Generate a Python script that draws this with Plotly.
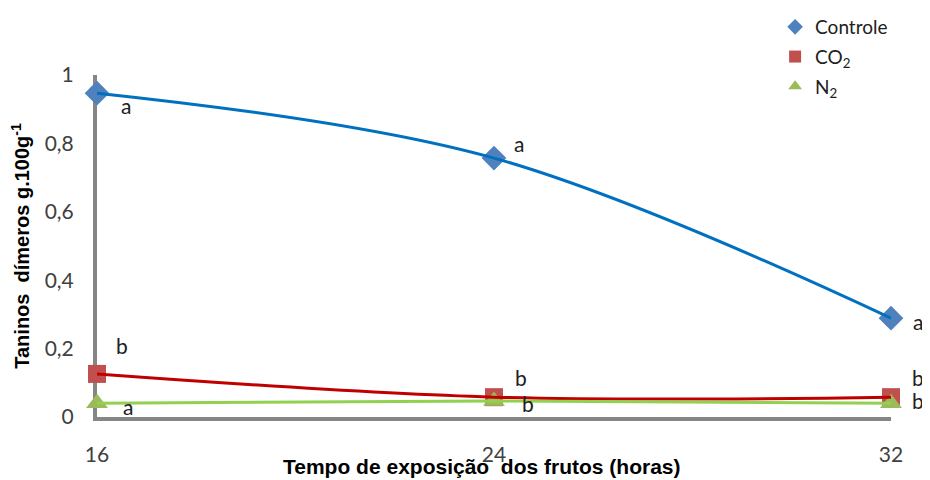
import plotly.graph_objects as go

horas = [16, 24, 32]
controle = [0.947, 0.757, 0.289]
co2 = [0.126, 0.058, 0.058]
n2 = [0.040, 0.047, 0.040]
letras_controle = ["a", "a", "a"]
letras_co2 = ["b", "b", "b"]
letras_n2 = ["a", "b", "b"]
y_ticks = [0, 0.2, 0.4, 0.6, 0.8, 1]
y_ticktext = ["0", "0,2", "0,4", "0,6", "0,8", "1"]
x_ticks = [16, 24, 32]

tick_font = dict(family="Lato, Noto Sans, sans-serif", size=21, color="#404040")
fig = go.Figure()

series = [
    ("Controle", controle, "diamond", "#4F81BD", "#0070C0", 19, "g1"),
    ("CO<sub>2</sub>", co2, "square", "#C0504D", "#C00000", 18, "g2"),
    ("N<sub>2</sub>", n2, "triangle-up", "#9BBB59", "#92D050", 19, "g3"),
]
for name, vals, sym, mcol, lcol, sz, grp in series:
    fig.add_trace(go.Scatter(x=horas, y=vals, mode="markers", name=name,
                             legendgroup=grp,
                             marker=dict(symbol=sym, color=mcol, size=sz),
                             cliponaxis=False))
for name, vals, sym, mcol, lcol, sz, grp in series:
    fig.add_trace(go.Scatter(x=horas, y=vals, mode="lines", showlegend=False,
                             line=dict(color=lcol, width=3, shape="spline", smoothing=1),
                             cliponaxis=False, hoverinfo="skip"))

offsets_controle = [(29, -12), (25, 15), (27, -3)]
offsets_co2 = [(25, 28), (27, 20), (27, 20)]
offsets_n2 = [(31, -3), (34, -3), (27, 3)]
for vals, letras, offs in [(controle, letras_controle, offsets_controle),
                           (co2, letras_co2, offsets_co2),
                           (n2, letras_n2, offsets_n2)]:
    for xv, yv, t, (dx, dy) in zip(horas, vals, letras, offs):
        fig.add_annotation(x=xv, y=yv, text=t, showarrow=False,
                           xshift=dx, yshift=dy,
                           font=dict(family="Lato, Noto Sans, sans-serif", size=21, color="#202020"))

title_font = dict(family="Liberation Sans, Arial, sans-serif", size=21, color="#000000")
fig.add_annotation(xref="paper", yref="paper", x=0.485, y=-0.146,
                   xanchor="center", yanchor="middle", showarrow=False,
                   text="<b>Tempo de exposição  dos frutos (horas)</b>", font=title_font)

fig.update_layout(
    width=922, height=472,
    margin=dict(l=89, r=39, t=67, b=63, autoexpand=False),
    plot_bgcolor="white", paper_bgcolor="white",
    showlegend=True,
    legend=dict(xref="container", yref="container", x=0.832, y=1.0,
                xanchor="left", yanchor="top",
                font=dict(family="Lato, Noto Sans, sans-serif", size=19, color="#202020"),
                traceorder="grouped", tracegroupgap=2, itemwidth=30,
                itemsizing="constant",
                bgcolor="rgba(0,0,0,0)"),
    xaxis=dict(range=[16, 32], tickvals=x_ticks, ticktext=[str(v) for v in x_ticks],
               showgrid=False, zeroline=False, showline=True, linecolor="#868686",
               linewidth=4, ticks="", tickfont=tick_font, ticklabelstandoff=16,
               layer="below traces"),
    yaxis=dict(range=[0, 1], tickvals=y_ticks, ticktext=y_ticktext,
               showgrid=False, zeroline=False, showline=True, linecolor="#868686",
               linewidth=4, ticks="", tickfont=tick_font, ticklabelstandoff=15,
               layer="below traces",
               title=dict(text="<b>Taninos  dímeros g.100g<sup>-1</sup></b>",
                          font=dict(family="Liberation Sans, Arial, sans-serif", size=20, color="#000000"),
                          standoff=13)),
)

fig.write_html("out.html")
